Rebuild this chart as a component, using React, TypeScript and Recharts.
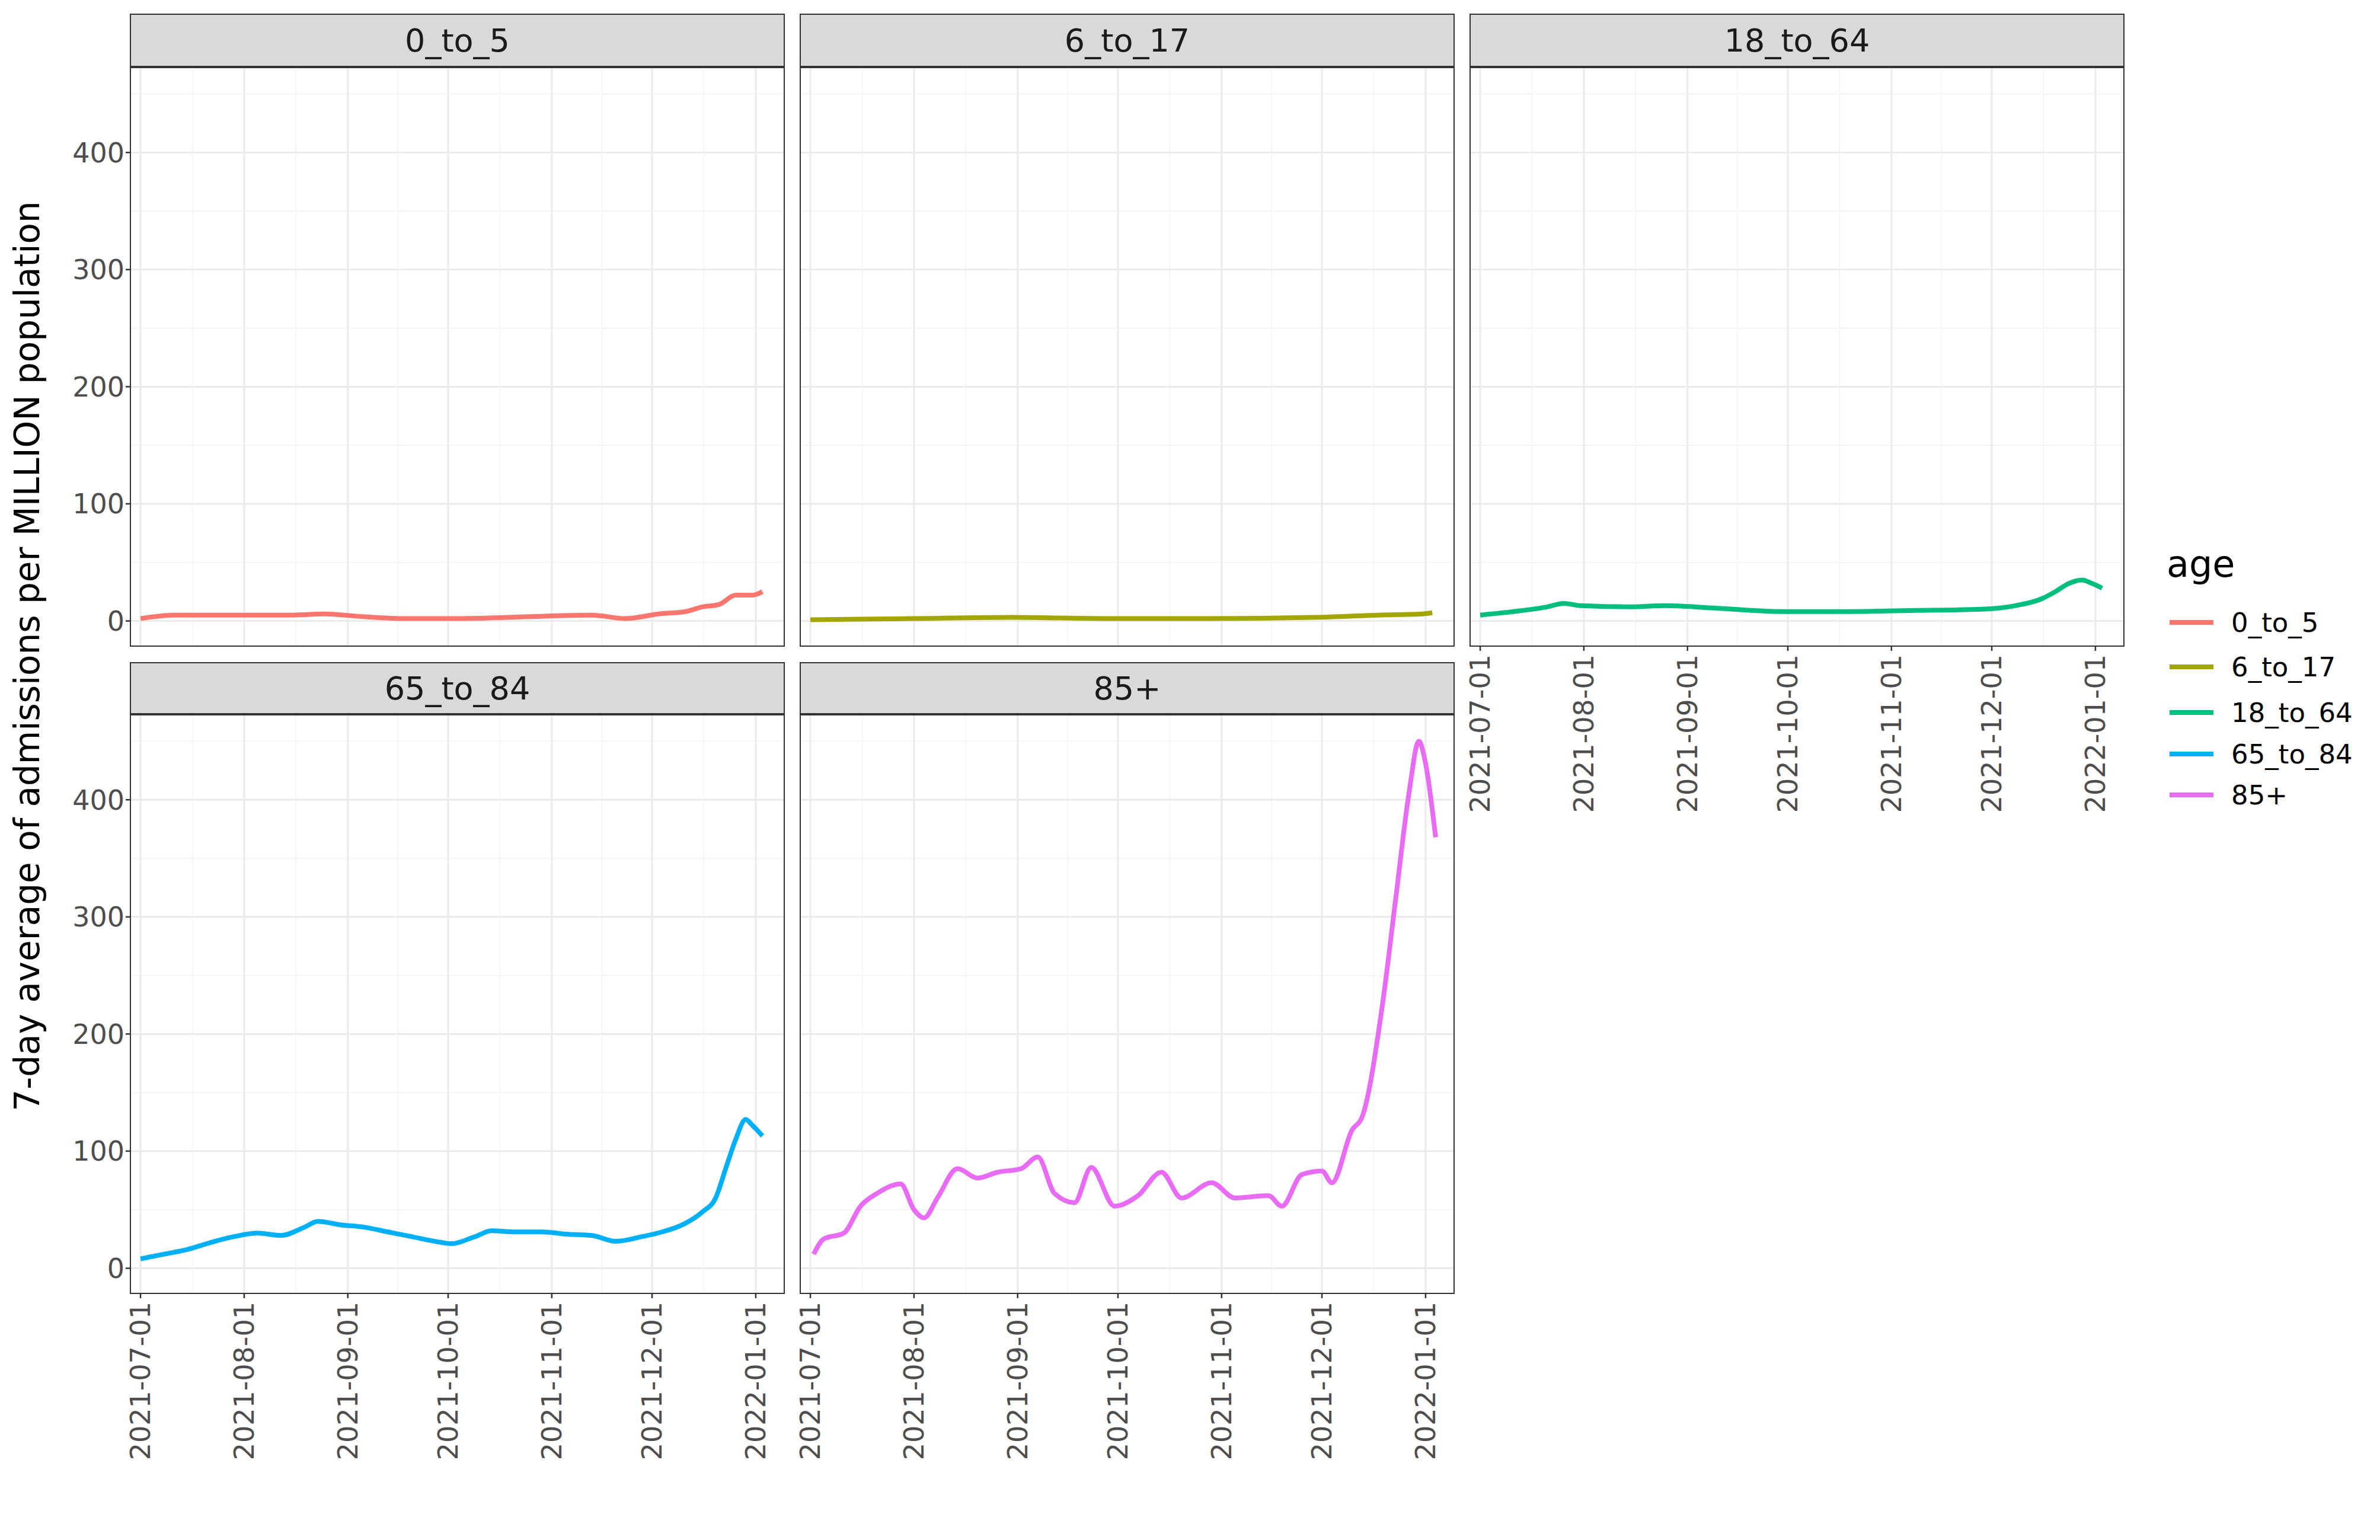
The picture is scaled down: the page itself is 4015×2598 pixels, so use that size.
import React from 'react';
import { LineChart, Line, XAxis, YAxis, CartesianGrid } from 'recharts';

// days since 2021-07-01
const dateTicks = [0, 31, 62, 92, 123, 153, 184];
const dateLabels = ['2021-07-01', '2021-08-01', '2021-09-01', '2021-10-01', '2021-11-01', '2021-12-01', '2022-01-01'];
const minorX = [15.5, 46.5, 77, 107.5, 138, 168.5];
const yTicks = [0, 100, 200, 300, 400];
const minorY = [50, 150, 250, 350, 450];

const days0to5 = [0, 10, 20, 30, 45, 55, 65, 80, 95, 110, 120, 135, 145, 155, 163, 168, 173, 178, 183, 186];
const vals0to5 = [2, 5, 5, 5, 5, 6, 4, 2, 2, 3, 4, 5, 2, 6, 8, 12, 14, 22, 22, 25];
const days6to17 = [0, 30, 60, 90, 120, 150, 170, 183, 186];
const vals6to17 = [1, 2, 3, 2, 2, 3, 5, 6, 7];
const days18to64 = [0, 10, 20, 25, 30, 45, 55, 70, 90, 110, 130, 150, 160, 168, 172, 176, 180, 183, 186];
const vals18to64 = [5, 8, 12, 15, 13, 12, 13, 11, 8, 8, 9, 10, 13, 19, 25, 32, 35, 32, 28];
const days65to84 = [0, 7, 14, 21, 28, 35, 42, 49, 53, 60, 67, 74, 81, 88, 93, 100, 105, 112, 120, 128, 135, 142, 150, 156, 162, 168, 172, 175, 178, 181, 183, 186];
const vals65to84 = [8, 12, 16, 22, 27, 30, 28, 35, 40, 37, 35, 31, 27, 23, 21, 27, 32, 31, 31, 29, 28, 23, 27, 31, 37, 48, 60, 85, 110, 127, 122, 113];
const days85 = [1, 4, 10, 15, 20, 27, 31, 34, 38, 44, 50, 56, 63, 68, 73, 79, 84, 91, 98, 105, 111, 120, 127, 137, 141, 147, 153, 156, 162, 165, 171, 175, 179, 182, 184, 187];
const vals85 = [12, 25, 30, 53, 64, 72, 50, 43, 60, 85, 77, 82, 85, 95, 64, 56, 86, 53, 62, 82, 60, 73, 60, 62, 53, 80, 83, 73, 118, 129, 223, 314, 405, 450, 431, 368];

const zip = (d: number[], v: number[]) => d.map((day, i) => ({ day, value: v[i] }));

const FONT = '"DejaVu Sans", sans-serif';
const colors = ['#F8766D', '#A3A500', '#00BF7D', '#00B0F6', '#E76BF3'];
const names = ['0_to_5', '6_to_17', '18_to_64', '65_to_84', '85+'];
const series = [
  zip(days0to5, vals0to5),
  zip(days6to17, vals6to17),
  zip(days18to64, vals18to64),
  zip(days65to84, vals65to84),
  zip(days85, vals85),
];

const panelX = [219, 1349, 2479];
const PW = 1105;
const rows = [{ strip: 23, plot: 113 }, { strip: 1117, plot: 1205 }];
const PH = 978;
const YW = 160;
const XH = 380;

const XTick = (props: any) => {
  const { x, y, payload } = props;
  const i = dateTicks.indexOf(payload.value);
  return (
    <g transform={`translate(${x},${y})`}>
      <text transform="rotate(-90)" x={-4} dy="0.35em" textAnchor="end" fontSize={46} fill="#4D4D4D" fontFamily={FONT}>
        {dateLabels[i]}
      </text>
    </g>
  );
};
const NoTick = () => <g />;

function Panel({ idx, col, row, showY, showX }: { idx: number; col: number; row: number; showY: boolean; showX: boolean }) {
  const left = panelX[col];
  const { strip, plot } = rows[row];
  return (
    <>
      <div
        style={{
          position: 'absolute', left, top: strip, width: PW, height: plot - strip,
          background: '#D9D9D9', border: '2.5px solid #333', boxSizing: 'border-box',
          display: 'flex', alignItems: 'center', justifyContent: 'center',
          fontFamily: FONT, fontSize: 54, color: '#1A1A1A',
        }}
      >
        {names[idx]}
      </div>
      <div style={{ position: 'absolute', left: left - YW, top: plot }}>
        <LineChart width={PW + YW} height={PH + XH} data={series[idx]} margin={{ top: 0, right: 0, left: 0, bottom: 0 }}>
          <CartesianGrid verticalValues={minorX} horizontalValues={minorY} stroke="#F2F2F2" strokeWidth={1.5} />
          <CartesianGrid verticalValues={dateTicks} horizontalValues={yTicks} stroke="#EBEBEB" strokeWidth={3} />
          <XAxis
            dataKey="day" type="number" domain={[-3.2, 192.7]} ticks={dateTicks} height={XH}
            axisLine={false} tickLine={showX ? { stroke: '#333', strokeWidth: 2.5 } : false} tickSize={7}
            tick={showX ? <XTick /> : <NoTick />} interval={0} allowDataOverflow
          />
          <YAxis
            type="number" domain={[-22, 473]} ticks={yTicks} width={YW} allowDataOverflow
            axisLine={false} tickLine={showY ? { stroke: '#333', strokeWidth: 2.5 } : false} tickSize={7}
            tick={showY ? { fontSize: 46, fill: '#4D4D4D', fontFamily: FONT } : <NoTick />} interval={0}
          />
          <Line dataKey="value" type="monotone" stroke={colors[idx]} strokeWidth={8} dot={false} isAnimationActive={false} />
        </LineChart>
      </div>
      <div
        style={{
          position: 'absolute', left, top: plot, width: PW, height: PH,
          border: '2.5px solid #333', boxSizing: 'border-box', pointerEvents: 'none',
        }}
      />
    </>
  );
}

export default function App() {
  return (
    <div style={{ position: 'relative', width: 4015, height: 2598, marginLeft: -8, marginTop: -8, background: '#fff', overflow: 'hidden' }}>
      <Panel idx={0} col={0} row={0} showY showX={false} />
      <Panel idx={1} col={1} row={0} showY={false} showX={false} />
      <Panel idx={2} col={2} row={0} showY={false} showX />
      <Panel idx={3} col={0} row={1} showY showX />
      <Panel idx={4} col={1} row={1} showY={false} showX />
      <div
        style={{
          position: 'absolute', left: 46, top: 1107, transform: 'translate(-50%,-50%) rotate(-90deg)',
          whiteSpace: 'nowrap', fontFamily: FONT, fontSize: 58, color: '#000',
        }}
      >
        7-day average of admissions per MILLION population
      </div>
      <div style={{ position: 'absolute', left: 3655, top: 915, fontFamily: FONT, fontSize: 62 }}>age</div>
      {names.map((n, i) => (
        <div key={n} style={{ position: 'absolute', left: 3660, top: [1050, 1125, 1202, 1272, 1341][i] - 25, height: 50, display: 'flex', alignItems: 'center' }}>
          <div style={{ width: 74, height: 8, background: colors[i] }} />
          <span style={{ marginLeft: 30, fontFamily: FONT, fontSize: 45, color: '#000' }}>{n}</span>
        </div>
      ))}
    </div>
  );
}
